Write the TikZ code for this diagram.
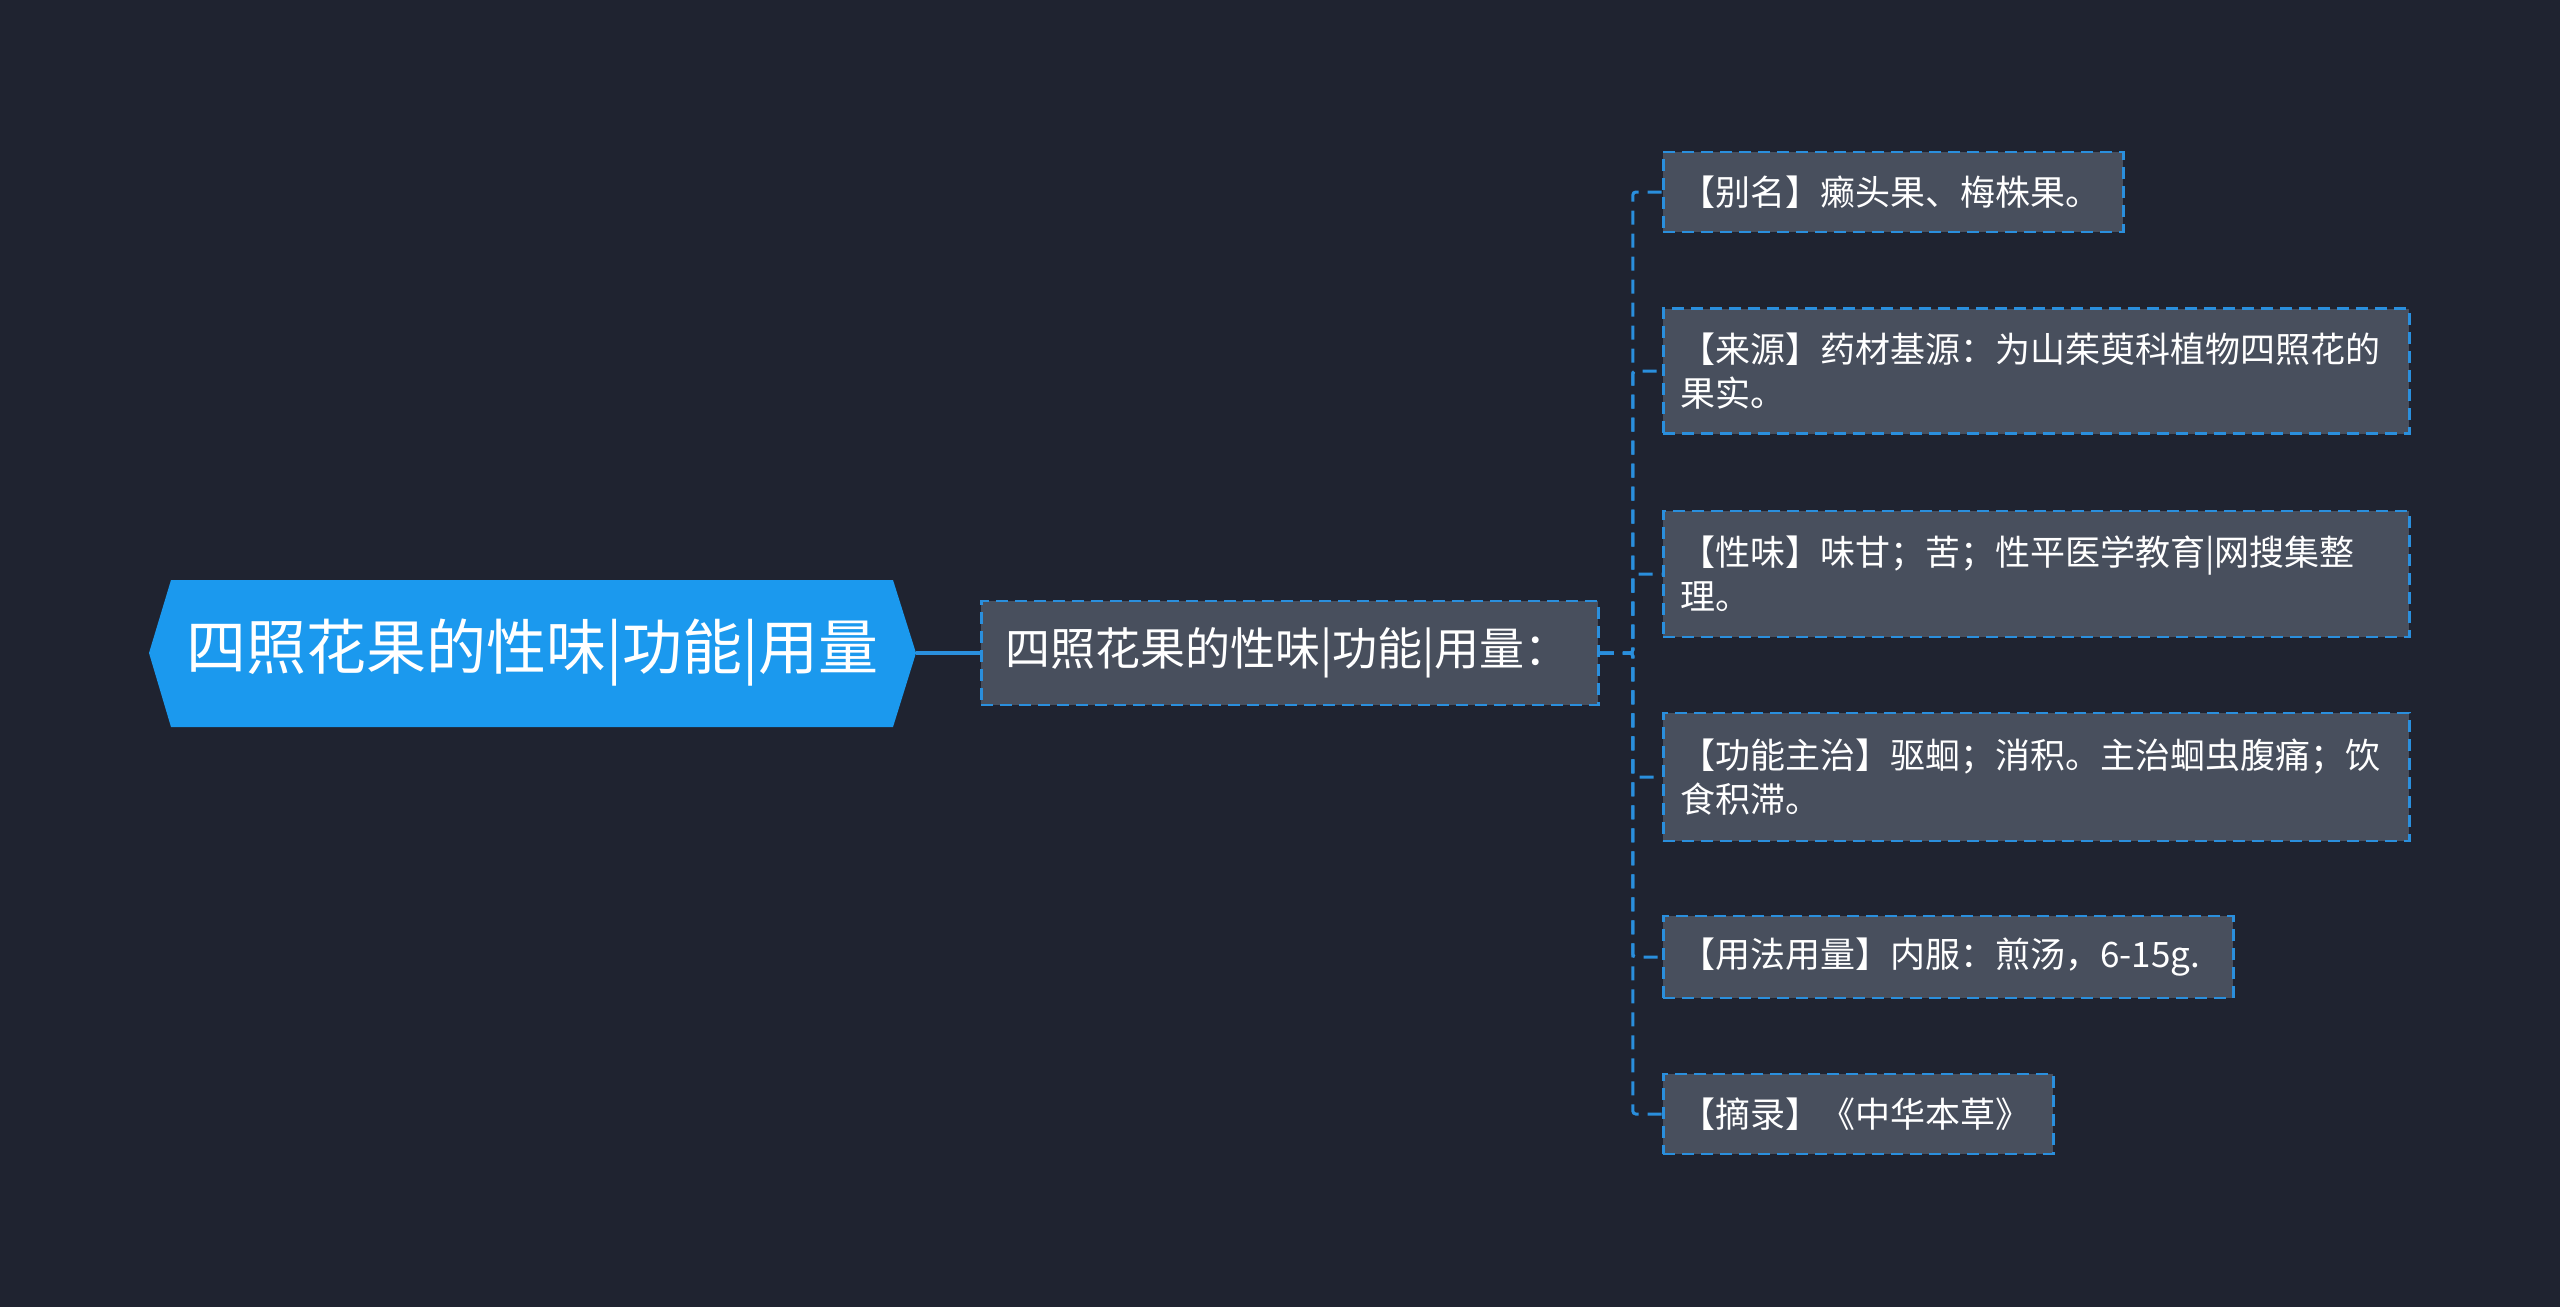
\documentclass[tikz,border=0pt]{standalone}
\usepackage{fontspec}
\setmainfont{Noto Sans CJK SC}
\definecolor{bg}{HTML}{1F2330}
\definecolor{boxfill}{HTML}{484F5D}
\definecolor{edgeblue}{HTML}{2A8FDD}
\definecolor{rootfill}{HTML}{1B99EE}
\begin{document}
\begin{tikzpicture}[x=1pt,y=-1pt,
  leaf/.style={rectangle, fill=boxfill, draw=edgeblue, line width=2.8pt,
    dash pattern=on 12pt off 7pt, text=white, font=\fontsize{35}{44}\selectfont,
    anchor=west, align=left, inner xsep=17pt, inner ysep=0pt},
  conn/.style={draw=edgeblue, line width=3pt, dash pattern=on 14pt off 9pt, rounded corners=3pt},
  rootconn/.style={draw=edgeblue, line width=3.5pt}
]
\fill[bg] (0,0) rectangle (2560,1307);
\useasboundingbox (0,0) rectangle (2560,1307);
% root hexagon
\fill[rootfill] (149,653) -- (171,580) -- (893,580) -- (916,653) -- (893,727) -- (171,727) -- cycle;
\node[rectangle, minimum width=767pt, minimum height=147pt, inner sep=0pt,
  text=white, font=\fontsize{60}{70}\selectfont] (root) at (532.5,653) {四照花果的性味|功能|用量};
% main node
\node[leaf, font=\fontsize{45}{52}\selectfont, text width=569pt, inner xsep=24pt,
  minimum height=104pt] (main) at (980,653) {四照花果的性味|功能|用量：};
% leaves
\node[leaf, text width=426pt, minimum height=80pt] (l1) at (1662,192) {【别名】癞头果、梅株果。};
\node[leaf, text width=712pt, minimum height=125pt] (l2) at (1662,371) {【来源】药材基源：为山茱萸科植物四照花的\\果实。};
\node[leaf, text width=712pt, minimum height=126pt] (l3) at (1662,574) {【性味】味甘；苦；性平医学教育|网搜集整\\理。};
\node[leaf, text width=712pt, minimum height=128pt] (l4) at (1662,777) {【功能主治】驱蛔；消积。主治蛔虫腹痛；饮\\食积滞。};
\node[leaf, text width=536pt, minimum height=82pt] (l5) at (1662,957) {【用法用量】内服：煎汤，6-15g.};
\node[leaf, text width=356pt, minimum height=80pt] (l6) at (1662,1114) {【摘录】《中华本草》};
% connectors
\draw[rootconn] (root.east) -- (main.west);
\foreach \n in {l1,l2,l3,l4,l5,l6}{
  \draw[conn] (main.east) -- ([xshift=33pt]main.east) |- (\n.west);
}
\end{tikzpicture}
\end{document}
